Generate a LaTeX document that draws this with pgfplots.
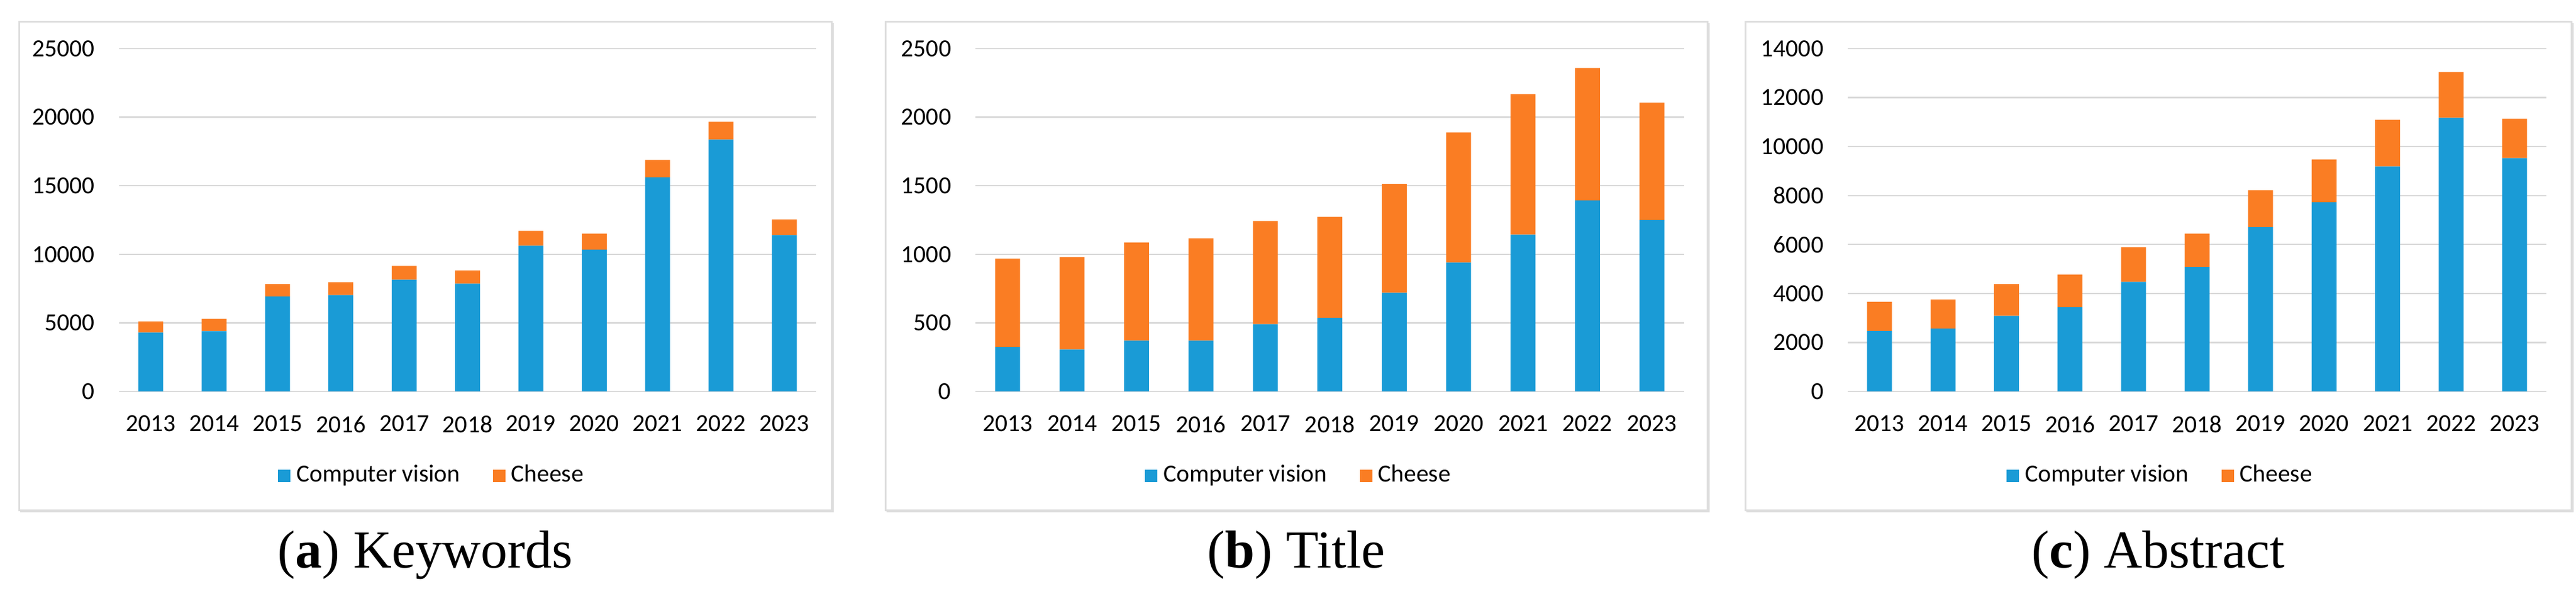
\documentclass[border=0pt]{standalone}
\usepackage{fontspec}
\setmainfont{Liberation Serif}
\newfontfamily\carlito{Carlito}
\usepackage{pgfplots}
\pgfplotsset{compat=1.18}
\definecolor{cvblue}{RGB}{26,155,214}
\definecolor{chorange}{RGB}{250,125,35}
\definecolor{gridgray}{RGB}{217,217,217}
\definecolor{framegray}{RGB}{222,222,222}
\pgfplotsset{
  panel/.style={
    scale only axis, height=115.6pt,
    ybar stacked, bar width=8.4pt,
    xmin=-0.5, xmax=10.5, ymin=0,
    xtick={0,1,2,3,4,5,6,7,8,9,10},
    xticklabels={2013,2014,2015,2016,2017,2018,2019,2020,2021,2022,2023},
    axis line style={draw=none},
    tick style={draw=none},
    ymajorgrids, grid style={gridgray, line width=0.45pt},
    tick label style={font=\carlito\fontsize{8.3}{10}\selectfont},
    /pgf/number format/assume math mode=true,
    scaled y ticks=false,
    yticklabel style={/pgf/number format/1000 sep={}, inner sep=0pt, xshift=-8pt},
    xticklabel style={inner sep=0pt, yshift=-8pt},
    legend columns=2,
    legend style={draw=none, fill=none, anchor=center,
      font=\carlito\fontsize{8.3}{10}\selectfont,
      /tikz/every even column/.append style={column sep=9pt}},
    legend image code/.code={\fill[#1] (0pt,-2.1pt) rectangle (4.2pt,2.1pt);},
  }
}
\begin{document}
\begin{tikzpicture}
\path[use as bounding box] (0,0) rectangle (869.4pt,200.8pt);
% frames
\foreach \l/\r in {6.4pt/280.6pt, 298.8pt/576.2pt, 589pt/867.8pt}{
  \draw[black!14, line width=0.9pt] ([xshift=0.4pt]\l,28.4pt) -- ([xshift=0.4pt]\r,28.4pt) -- ([xshift=0.4pt]\r,193pt);
  \draw[framegray, line width=0.6pt] (\l,28.8pt) rectangle (\r,193.4pt);
}
% (a) Keywords
\begin{axis}[panel, at={(40.2pt,68.8pt)}, anchor=south west, width=235.2pt,
  ymax=25000, ytick={0,5000,10000,15000,20000,25000},
  legend style={at={(0.4515,-0.2457)}}]
\addplot[fill=cvblue, draw=none] coordinates {(0,4300) (1,4400) (2,6930) (3,7020) (4,8150) (5,7860) (6,10620) (7,10340) (8,15610) (9,18370) (10,11400)};
\addplot[fill=chorange, draw=none] coordinates {(0,800) (1,890) (2,890) (3,940) (4,1000) (5,960) (6,1080) (7,1170) (8,1280) (9,1290) (10,1140)};
\legend{Computer vision, Cheese}
\end{axis}
% (b) Title
\begin{axis}[panel, at={(329.2pt,68.8pt)}, anchor=south west, width=239.2pt,
  ymax=2500, ytick={0,500,1000,1500,2000,2500},
  legend style={at={(0.459,-0.2457)}}]
\addplot[fill=cvblue, draw=none] coordinates {(0,324) (1,305) (2,370) (3,370) (4,490) (5,537) (6,720) (7,940) (8,1144) (9,1393) (10,1250)};
\addplot[fill=chorange, draw=none] coordinates {(0,644) (1,675) (2,716) (3,746) (4,753) (5,736) (6,793) (7,948) (8,1025) (9,966) (10,856)};
\legend{Computer vision, Cheese}
\end{axis}
% (c) Abstract
\begin{axis}[panel, at={(623.6pt,68.8pt)}, anchor=south west, width=235.8pt,
  ymax=14000, ytick={0,2000,4000,6000,8000,10000,12000,14000},
  legend style={at={(0.4504,-0.2457)}}]
\addplot[fill=cvblue, draw=none] coordinates {(0,2470) (1,2562) (2,3085) (3,3437) (4,4470) (5,5084) (6,6705) (7,7724) (8,9188) (9,11175) (10,9528)};
\addplot[fill=chorange, draw=none] coordinates {(0,1190) (1,1189) (2,1293) (3,1333) (4,1411) (5,1359) (6,1516) (7,1752) (8,1908) (9,1869) (10,1607)};
\legend{Computer vision, Cheese}
\end{axis}
% captions
\node[anchor=base, font=\fontsize{18}{21}\selectfont] at (143.5pt,9.4pt) {(\textbf{a}) Keywords};
\node[anchor=base, font=\fontsize{18}{21}\selectfont] at (437.5pt,9.4pt) {(\textbf{b}) Title};
\node[anchor=base, font=\fontsize{18}{21}\selectfont] at (728.4pt,9.4pt) {(\textbf{c}) Abstract};
\end{tikzpicture}
\end{document}
